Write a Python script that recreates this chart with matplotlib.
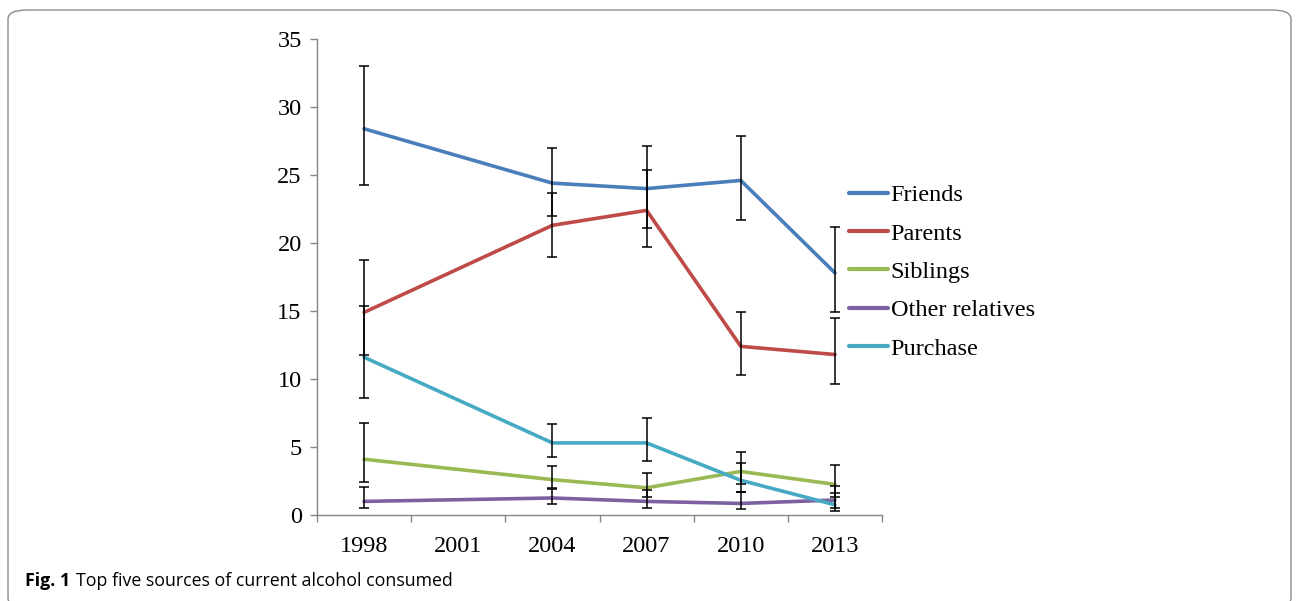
import matplotlib
matplotlib.use("Agg")
import matplotlib.pyplot as plt
from matplotlib.patches import FancyBboxPatch
import numpy as np

# survey years on the x axis (no data for 2001)
years = ["1998", "2001", "2004", "2007", "2010", "2013"]
data_pos = [0, 2, 3, 4, 5]

# percentages and lower / upper interval bounds per source
friends = [28.4, 24.4, 24.0, 24.6, 17.8]
friends_lo = [24.3, 22.0, 21.1, 21.7, 14.9]
friends_hi = [33.0, 27.0, 27.1, 27.9, 21.15]

parents = [14.9, 21.3, 22.4, 12.4, 11.8]
parents_lo = [11.8, 19.0, 19.7, 10.3, 9.6]
parents_hi = [18.75, 23.7, 25.4, 14.95, 14.45]

siblings = [4.1, 2.6, 2.0, 3.2, 2.25]
siblings_lo = [2.4, 1.95, 1.35, 2.25, 1.35]
siblings_hi = [6.8, 3.6, 3.1, 4.65, 3.7]

relatives = [1.0, 1.25, 1.0, 0.85, 1.1]
relatives_lo = [0.5, 0.8, 0.5, 0.47, 0.55]
relatives_hi = [2.05, 1.9, 1.85, 1.7, 1.6]

purchase = [11.6, 5.3, 5.3, 2.55, 0.75]
purchase_lo = [8.6, 4.25, 3.95, 1.7, 0.3]
purchase_hi = [15.4, 6.7, 7.1, 3.85, 2.15]

series = [
    ("Friends", friends, friends_lo, friends_hi, "#4a7ebb"),
    ("Parents", parents, parents_lo, parents_hi, "#be4b48"),
    ("Siblings", siblings, siblings_lo, siblings_hi, "#98b954"),
    ("Other relatives", relatives, relatives_lo, relatives_hi, "#7d60a0"),
    ("Purchase", purchase, purchase_lo, purchase_hi, "#46aac5"),
]

serif = "Liberation Serif"
fs = 17.5

fig = plt.figure(figsize=(12.96, 6.01), dpi=100)
ax = fig.add_axes([0.2446, 0.1431, 0.436, 0.792])

for name, vals, lo, hi, col in series:
    vals = np.array(vals)
    err = [vals - np.array(lo), np.array(hi) - vals]
    ax.plot(data_pos, vals, color=col, lw=2.6, label=name, solid_capstyle="round", zorder=2)
    ax.errorbar(data_pos, vals, yerr=err, fmt="none", ecolor="black",
                elinewidth=1.1, capsize=3.5, capthick=1.1, zorder=3)

ax.set_xlim(-0.5, 5.5)
ax.set_ylim(0, 35)
ax.set_yticks(range(0, 36, 5))
ax.set_yticklabels([str(v) for v in range(0, 36, 5)], fontsize=fs, fontfamily=serif)
ax.set_xticks(range(len(years)))
ax.set_xticklabels(years, fontsize=fs, fontfamily=serif)
ax.set_xticks(np.arange(-0.5, 5.6, 1), minor=True)
ax.tick_params(axis="x", which="major", length=0, pad=15)
ax.tick_params(axis="x", which="minor", length=5, color="#868686", width=1)
ax.tick_params(axis="y", length=5, color="#868686", width=1, pad=6)
for s in ["top", "right"]:
    ax.spines[s].set_visible(False)
for s in ["left", "bottom"]:
    ax.spines[s].set_color("#868686")
    ax.spines[s].set_linewidth(1)

leg = ax.legend(loc="upper left", bbox_to_anchor=(0.924, 0.715), frameon=False,
                prop={"family": serif, "size": fs}, handlelength=1.6,
                handletextpad=0.12, labelspacing=0.67, borderaxespad=0)
for h in leg.get_lines():
    h.set_linewidth(3)

# outer frame with rounded corners (bottom edge runs off the page)
frame = FancyBboxPatch((8 / 1296, -6 / 601), 1283 / 1296, 597 / 601,
                       boxstyle="round,pad=0,rounding_size=0.015",
                       transform=fig.transFigure, fill=False,
                       edgecolor="#8c8c8c", lw=1.0)
fig.patches.append(frame)

# caption
r = fig.canvas.get_renderer()
t1 = fig.text(25 / 1296, 0.0255, "Fig. 1", fontsize=12.8, fontweight="bold",
              fontfamily="Open Sans", va="baseline")
bb = t1.get_window_extent(renderer=r)
fig.text((bb.x1 + 6) / 1296, 0.0255, "Top five sources of current alcohol consumed",
         fontsize=12.8, fontfamily="Open Sans", va="baseline")

fig.savefig("out.png", dpi=100)
